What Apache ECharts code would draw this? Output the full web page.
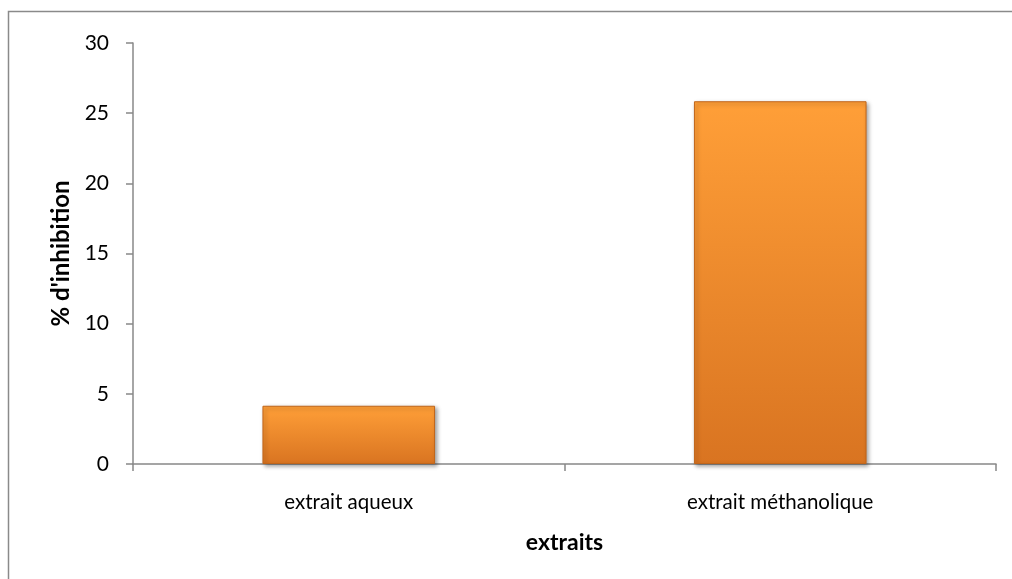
<!DOCTYPE html>
<html><head><meta charset="utf-8">
<script src="https://cdn.jsdelivr.net/npm/echarts@6/dist/echarts.min.js"></script>
<style>html,body{margin:0;padding:0;background:#fff}#c{width:1012px;height:579px}</style>
</head><body><div id="c"></div>
<script>
const categories = ['extrait aqueux', 'extrait méthanolique'];
const values = [4.15, 25.85];
const yTicks = [0, 5, 10, 15, 20, 25, 30];
const xTitle = 'extraits';
const yTitle = "% d'inhibition";

const chart = echarts.init(document.getElementById('c'), null, {renderer: 'canvas'});
const axisColor = '#888888';
chart.setOption({
  backgroundColor: '#ffffff',
  animation: false,
  graphic: [{
    type: 'rect', shape: {x: 8.5, y: 11.5, width: 1020, height: 600},
    style: {fill: 'none', stroke: '#8a8a8a', lineWidth: 1.5}, silent: true
  }],
  grid: {left: 133, right: 16, top: 43, bottom: 115},
  xAxis: {
    type: 'category', data: categories,
    name: xTitle, nameLocation: 'middle', nameGap: 67,
    nameTextStyle: {fontFamily: 'Lato', fontWeight: 'bold', fontSize: 23, color: '#000'},
    axisLine: {lineStyle: {color: axisColor, width: 1.5}},
    axisTick: {show: true, length: 7, lineStyle: {color: axisColor, width: 1.5}},
    axisLabel: {fontFamily: 'Lato', fontSize: 20.5, color: '#000', margin: 28},
    splitLine: {show: false}
  },
  yAxis: {
    type: 'value', min: yTicks[0], max: yTicks[yTicks.length - 1], interval: 5,
    name: yTitle, nameLocation: 'middle', nameGap: 59, nameRotate: 90,
    nameTextStyle: {fontFamily: 'Lato', fontWeight: 'bold', fontSize: 24, color: '#000'},
    axisLine: {show: true, lineStyle: {color: axisColor, width: 1.5}},
    axisTick: {show: true, length: 7, lineStyle: {color: axisColor, width: 1.5}},
    axisLabel: {fontFamily: 'Lato', fontSize: 21, color: '#000', margin: 24},
    splitLine: {show: false}
  },
  series: [{
    type: 'bar', data: values, barWidth: '40%',
    itemStyle: {
      color: new echarts.graphic.LinearGradient(0, 0, 0, 1, [
        {offset: 0, color: '#ff9f38'},
        {offset: 1, color: '#d97421'}
      ]),
      borderColor: '#c0651a', borderWidth: 1,
      shadowColor: 'rgba(0,0,0,0.35)', shadowBlur: 4, shadowOffsetX: 2, shadowOffsetY: 2
    }
  }]
});
</script></body></html>
